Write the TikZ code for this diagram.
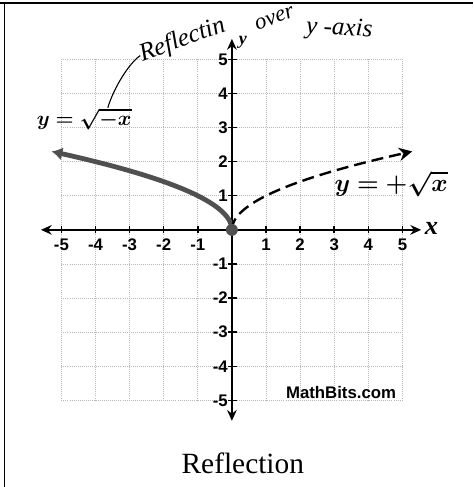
\documentclass[tikz,border=0pt]{standalone}
\usepackage{bm}
\usepackage{fontspec}
\setmainfont{Liberation Serif}
\setsansfont{Liberation Sans}
\usetikzlibrary{arrows.meta}
\definecolor{curvegray}{HTML}{505050}
\begin{document}
\begin{tikzpicture}[
  gridline/.style={gray!55, densely dotted, line width=0.7pt},
  axisline/.style={line width=2pt, arrows={Stealth[length=9pt,width=8pt]-Stealth[length=9pt,width=8pt]}},
  ticklabel/.style={font=\sffamily\bfseries\fontsize{14}{14}\selectfont, inner sep=1pt},
  handnote/.style={font=\itshape\fontsize{21}{21}\selectfont, inner sep=0pt},
]
\useasboundingbox (-6.80,-7.54) rectangle (7.07,6.74);
% Frame
\draw[line width=1.2pt] (-6.80,6.65) -- (7.07,6.65);
\draw[line width=1pt] (-6.66,6.65) -- (-6.66,-7.54);
% Grid
\draw[gridline] (-5,-5) grid (5,5);
% Axes
\draw[axisline] (-5.6,0) -- (5.55,0);
\draw[axisline] (0,-5.6) -- (0,5.6);
\node[font=\bfseries\itshape\fontsize{22}{22}\selectfont] (xlab) at (5.85,0.05) {x};
\node[font=\bfseries\itshape\fontsize{15}{15}\selectfont] (ylab) at (0.32,5.5) {y};
% Ticks and labels
\foreach \i in {-5,...,-1,1,2,...,5} {
  \draw[line width=1.2pt] (\i,-0.1) -- (\i,0.12);
  \node[ticklabel] (xl\i) at (\i,-0.43) {\i};
  \draw[line width=1.2pt] (-0.1,\i) -- (0.15,\i);
  \node[ticklabel, anchor=east] (yl\i) at (-0.08,\i) {\i};
}
% Left-hand curve
\draw[curvegray, line width=4pt, arrows={-Latex[length=9pt,width=11pt]}]
  plot[domain=0:2.30, samples=40, smooth] ({-\x*\x},{\x});
% Right-hand curve
\draw[black, line width=2pt, dash pattern=on 10pt off 5pt, arrows={-Stealth[length=11pt,width=11pt]}]
  plot[domain=0:2.30, samples=40, smooth] ({\x*\x},{\x});
\node[circle, fill=curvegray, inner sep=0pt, minimum size=10pt] (origin) at (0,0) {};
% Curve labels
\node[font=\fontsize{19}{19}\selectfont] (negroot) at (-4.33,3.25) {$\bm{y=\sqrt{-x}}$};
\node[font=\fontsize{20}{20}\selectfont] (posroot) at (4.67,1.35) {$\bm{y=+\sqrt{x}}$};
% Handwritten note
\node[handnote, rotate=20] (notea) at (-1.45,5.56) {Reflectin};
\node[handnote, font=\itshape\fontsize{19}{19}\selectfont, rotate=20] (noteb) at (1.25,6.2) {over};
\node[handnote, rotate=-3] (notec) at (3.15,5.88) {y -axis};
\coordinate (radtop) at (-3.64,3.58);
\draw[line width=0.9pt] (notea.west) .. controls (-3.0,4.9) and (-3.45,4.2) .. (radtop);
% Credit and caption
\node[font=\sffamily\bfseries\fontsize{14}{14}\selectfont] (credit) at (3.2,-4.76) {MathBits.com};
\node[font=\fontsize{24.5}{25}\selectfont] (caption) at (0.32,-6.85) {Reflection};
\end{tikzpicture}
\end{document}
